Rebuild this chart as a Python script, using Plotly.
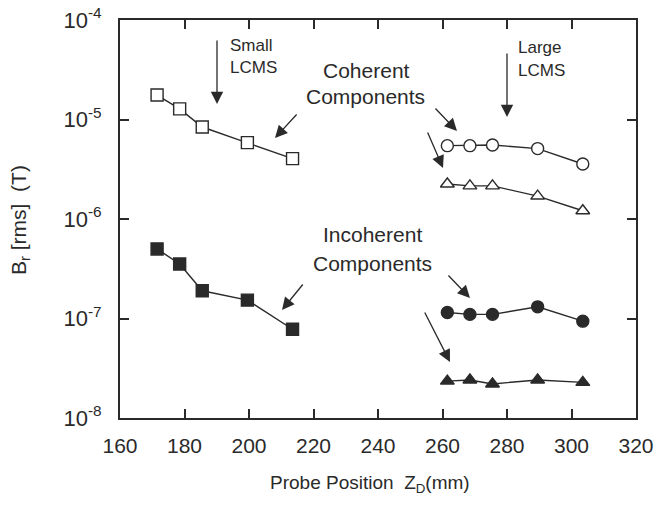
import plotly.graph_objects as go

# ---- data ----
z_small = [171.5, 178.5, 185.5, 199.5, 213.5]
coh_small = [1.76e-5, 1.28e-5, 8.4e-6, 5.85e-6, 4.04e-6]
inc_small = [5.0e-7, 3.53e-7, 1.9e-7, 1.53e-7, 7.8e-8]

z_large = [261.5, 268.5, 275.5, 289.5, 303.5]
coh_large_circ = [5.46e-6, 5.46e-6, 5.55e-6, 5.1e-6, 3.57e-6]
coh_large_tri = [2.25e-6, 2.15e-6, 2.15e-6, 1.70e-6, 1.21e-6]
inc_large_circ = [1.15e-7, 1.10e-7, 1.10e-7, 1.31e-7, 9.4e-8]
inc_large_tri = [2.35e-8, 2.41e-8, 2.2e-8, 2.41e-8, 2.28e-8]

x_ticks = [160, 180, 200, 220, 240, 260, 280, 300, 320]
y_exps = [-8, -7, -6, -5, -4]

INK = "#2a2a2a"
FONT = "Liberation Sans, Arial, sans-serif"

fig = go.Figure()

def add(x, y, symbol, filled, size=12):
    fig.add_trace(go.Scatter(
        x=x, y=y, mode="lines+markers",
        line=dict(color=INK, width=1.4),
        marker=dict(symbol=symbol, size=size, color=INK if filled else "white",
                    line=dict(color=INK, width=1.4)),
        showlegend=False))

add(z_small, coh_small, "square", False)
add(z_small, inc_small, "square", True)
add(z_large, coh_large_circ, "circle", False)
add(z_large, coh_large_tri, "triangle-up", False)
add(z_large, inc_large_circ, "circle", True)
add(z_large, inc_large_tri, "triangle-up", True)

L, R, T, B = 120, 636, 20, 418
W, H = 662, 508

def px(x):
    return (x - L) / (R - L)

def py(y):
    return (B - y) / (B - T)

def text(xp, yp, s, size, xanchor="center", angle=0):
    fig.add_annotation(x=px(xp), y=py(yp), xref="paper", yref="paper", text=s,
                       showarrow=False, xanchor=xanchor, yanchor="middle", textangle=angle,
                       font=dict(family=FONT, size=size, color=INK))

def arrow(x0, y0, x1, y1):
    fig.add_annotation(x=px(x1), y=py(y1), xref="x domain", yref="y domain",
                       ax=px(x0), ay=py(y0), axref="x domain", ayref="y domain",
                       text="", showarrow=True, arrowhead=2, arrowsize=1.9,
                       arrowwidth=1.3, arrowcolor=INK)

text(228, 45, "Small", 17, "left")
text(228, 67, "LCMS", 17, "left")
arrow(217, 39, 217, 104)
text(516, 47, "Large", 17, "left")
text(516, 70, "LCMS", 17, "left")
arrow(507, 52, 507, 117)

text(366, 70, "Coherent", 21)
text(365, 96, "Components", 21)
arrow(298, 113, 275, 138)
arrow(434, 107, 457, 131)
arrow(427, 131, 443, 168)

text(372, 235, "Incoherent", 21)
text(372, 263, "Components", 21)
arrow(304, 283, 282, 310)
arrow(447, 274, 470, 298)
arrow(424, 311, 450, 362)

text(370, 484, "Probe Position  Z<sub>D</sub>(mm)", 19)
text(20, 220, "B<sub>r</sub> [rms]  (T)", 21, angle=-90)

fig.update_layout(
    width=W, height=H,
    margin=dict(l=L, r=W - R, t=T, b=H - B),
    paper_bgcolor="white", plot_bgcolor="white",
    font=dict(family=FONT, size=21, color=INK),
    xaxis=dict(range=[160, 320], tickvals=x_ticks, ticktext=[str(v) for v in x_ticks],
               ticks="inside", ticklen=9, tickwidth=1.5, tickcolor=INK,
               showline=True, linewidth=2, linecolor=INK, mirror="ticks",
               showgrid=False, zeroline=False, ticklabelstandoff=8, automargin=False,
               tickfont=dict(size=21)),
    yaxis=dict(type="log", range=[-8, -4], tickvals=[10 ** e for e in y_exps],
               ticktext=["10<sup>%d</sup>" % e for e in y_exps],
               ticks="inside", ticklen=9, tickwidth=1.5, tickcolor=INK,
               showline=True, linewidth=2, linecolor=INK, mirror="ticks",
               showgrid=False, zeroline=False, ticklabelstandoff=12, automargin=False,
               tickfont=dict(size=22)),
)

fig.write_html("out.html")
